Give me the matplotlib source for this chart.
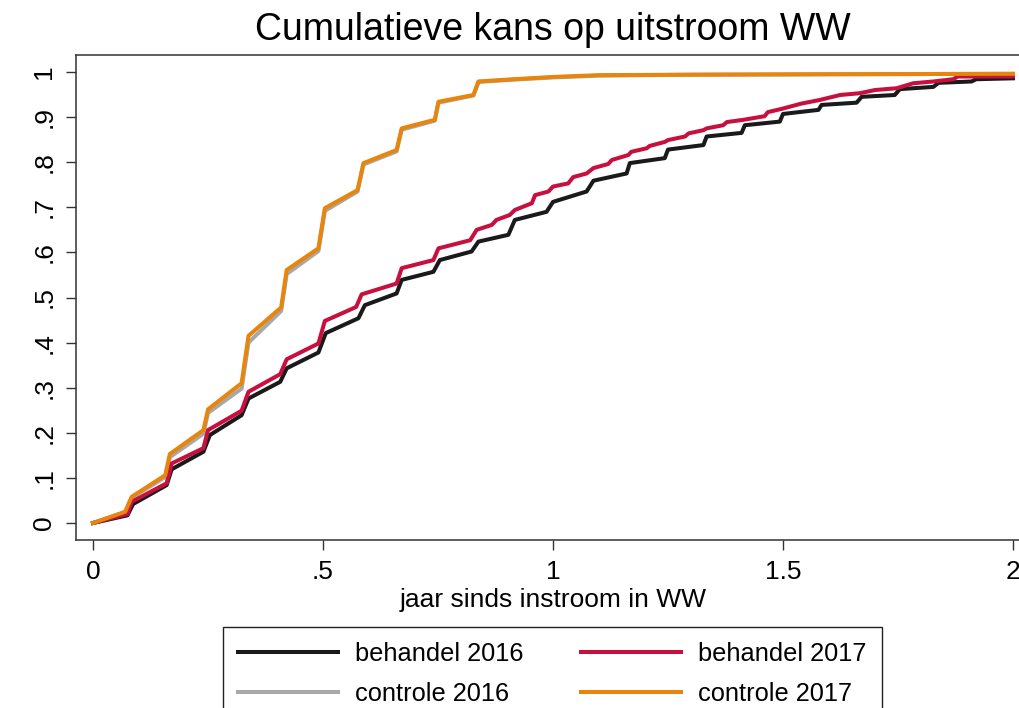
import matplotlib
matplotlib.use("Agg")
import matplotlib.pyplot as plt

plt.rcParams['font.family'] = ['Liberation Sans', 'DejaVu Sans']

# jaar sinds instroom (x) en cumulatieve kans (y)
behandel_2016_x = [0.0, 0.075, 0.087, 0.16, 0.171, 0.24, 0.254, 0.323, 0.338, 0.407, 0.421,
                   0.49, 0.506, 0.577, 0.591, 0.66, 0.671, 0.74, 0.754, 0.823, 0.838, 0.903,
                   0.917, 0.986, 1.0, 1.073, 1.088, 1.16, 1.167, 1.243, 1.25, 1.327, 1.334,
                   1.41, 1.417, 1.493, 1.5, 1.577, 1.584, 1.66, 1.671, 1.743, 1.754, 1.827,
                   1.838, 1.91, 1.92, 2.0]
behandel_2016_y = [0.0, 0.017, 0.042, 0.084, 0.119, 0.158, 0.195, 0.239, 0.276, 0.313, 0.343,
                   0.378, 0.421, 0.454, 0.483, 0.509, 0.539, 0.557, 0.583, 0.602, 0.624, 0.639,
                   0.672, 0.69, 0.712, 0.735, 0.759, 0.775, 0.798, 0.809, 0.828, 0.838, 0.857,
                   0.865, 0.882, 0.89, 0.907, 0.916, 0.927, 0.932, 0.945, 0.949, 0.962, 0.967,
                   0.976, 0.979, 0.984, 0.986]

behandel_2017_x = [0.0, 0.075, 0.084, 0.16, 0.171, 0.24, 0.25, 0.323, 0.338, 0.407, 0.421,
                   0.49, 0.504, 0.572, 0.584, 0.66, 0.671, 0.74, 0.751, 0.82, 0.834, 0.867,
                   0.877, 0.906, 0.917, 0.954, 0.961, 0.99, 1.0, 1.033, 1.044, 1.073, 1.088,
                   1.12, 1.128, 1.164, 1.17, 1.204, 1.21, 1.243, 1.25, 1.287, 1.295, 1.327,
                   1.334, 1.37, 1.378, 1.414, 1.46, 1.467, 1.5, 1.54, 1.58, 1.624, 1.667,
                   1.7, 1.747, 1.783, 1.827, 1.87, 1.88, 2.0]
behandel_2017_y = [0.0, 0.02, 0.047, 0.088, 0.132, 0.166, 0.206, 0.249, 0.291, 0.33, 0.363,
                   0.398, 0.448, 0.479, 0.507, 0.531, 0.565, 0.583, 0.609, 0.627, 0.65, 0.661,
                   0.672, 0.683, 0.694, 0.709, 0.727, 0.735, 0.746, 0.753, 0.767, 0.775, 0.787,
                   0.796, 0.805, 0.816, 0.823, 0.831, 0.836, 0.845, 0.849, 0.857, 0.864, 0.871,
                   0.875, 0.882, 0.889, 0.894, 0.902, 0.911, 0.919, 0.93, 0.938, 0.949, 0.953,
                   0.96, 0.964, 0.975, 0.979, 0.984, 0.99, 0.99]

controle_2016_x = [0.0, 0.07, 0.084, 0.157, 0.167, 0.24, 0.25, 0.323, 0.338, 0.409, 0.421,
                   0.49, 0.504, 0.575, 0.588, 0.66, 0.671, 0.743, 0.751, 0.827, 0.838, 0.914,
                   1.0, 1.1, 1.3, 1.6, 2.0]
controle_2016_y = [0.0, 0.024, 0.056, 0.102, 0.146, 0.198, 0.244, 0.298, 0.40, 0.47, 0.552,
                   0.603, 0.692, 0.735, 0.795, 0.824, 0.872, 0.892, 0.932, 0.948, 0.978, 0.983,
                   0.988, 0.992, 0.994, 0.995, 0.996]

controle_2017_x = [0.0, 0.07, 0.084, 0.157, 0.167, 0.24, 0.25, 0.323, 0.338, 0.409, 0.421,
                   0.49, 0.504, 0.575, 0.588, 0.66, 0.671, 0.743, 0.751, 0.827, 0.838, 0.914,
                   1.0, 1.1, 1.3, 1.6, 2.0]
controle_2017_y = [0.0, 0.025, 0.058, 0.106, 0.153, 0.206, 0.252, 0.31, 0.415, 0.478, 0.561,
                   0.609, 0.698, 0.738, 0.798, 0.827, 0.875, 0.894, 0.934, 0.949, 0.979, 0.984,
                   0.989, 0.993, 0.994, 0.995, 0.996]

x_ticks = [0, 0.5, 1, 1.5, 2]
x_tick_labels = ["0", ".5", "1", "1.5", "2"]
y_ticks = [0, 0.1, 0.2, 0.3, 0.4, 0.5, 0.6, 0.7, 0.8, 0.9, 1]
y_tick_labels = ["0", ".1", ".2", ".3", ".4", ".5", ".6", ".7", ".8", ".9", "1"]

fig = plt.figure(figsize=(10.2, 7.08), dpi=100)
ax = fig.add_axes([76 / 1020, 168 / 708, 954 / 1020, 485 / 708])

lw = 2.9
l1, = ax.plot(behandel_2016_x, behandel_2016_y, color="#1a1a1a", lw=lw, solid_joinstyle="round")
l2, = ax.plot(controle_2016_x, controle_2016_y, color="#a8a8a8", lw=lw, solid_joinstyle="round")
l3, = ax.plot(behandel_2017_x, behandel_2017_y, color="#c8103e", lw=lw, solid_joinstyle="round")
l4, = ax.plot(controle_2017_x, controle_2017_y, color="#e8850c", lw=lw, solid_joinstyle="round")

ax.set_xlim(-0.037, 2.037)
ax.set_ylim(-0.0377, 1.0377)
ax.set_xticks(x_ticks)
ax.set_xticklabels(x_tick_labels)
ax.set_yticks(y_ticks)
ax.set_yticklabels(y_tick_labels)
ax.tick_params(axis="both", length=7.2, width=1.0, color="#333333", labelsize=19, pad=7)
for lab in ax.get_yticklabels():
    lab.set_rotation(90)
    lab.set_va("center")
    lab.set_ha("right")
for sp in ax.spines.values():
    sp.set_color("#333333")
    sp.set_linewidth(1.1)

ax.set_title("Cumulatieve kans op uitstroom WW", fontsize=27, pad=10.8)
ax.set_xlabel("jaar sinds instroom in WW", fontsize=19, labelpad=3)

leg = fig.legend([l1, l2, l3, l4],
                 ["behandel 2016", "controle 2016", "behandel 2017", "controle 2017"],
                 ncol=2, loc="upper left", bbox_to_anchor=(223 / 1020, 1 - 627 / 708),
                 borderaxespad=0,
                 fontsize=18.3, handlelength=3.94, handletextpad=0.67, columnspacing=2.25,
                 labelspacing=0.62, borderpad=0.6, fancybox=False, framealpha=1)
leg.get_frame().set_edgecolor("#222222")
leg.get_frame().set_linewidth(1.0)

fig.savefig("out.png", dpi=100)
